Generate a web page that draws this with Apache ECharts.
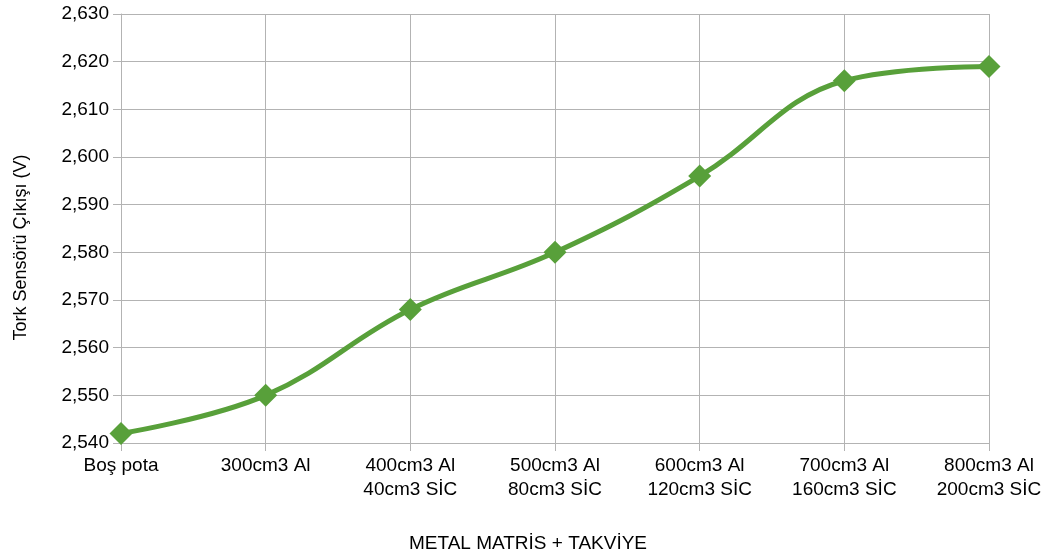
<!DOCTYPE html>
<html><head><meta charset="utf-8">
<script src="https://cdn.jsdelivr.net/npm/echarts@6/dist/echarts.min.js"></script>
<style>html,body{margin:0;padding:0;background:#fff}#c{width:1061px;height:559px}</style>
</head><body><div id="c"></div>
<script>
const categories = ['Boş pota', '300cm3 Al', '400cm3 Al\n40cm3 SİC', '500cm3 Al\n80cm3 SİC', '600cm3 Al\n120cm3 SİC', '700cm3 Al\n160cm3 SİC', '800cm3 Al\n200cm3 SİC'];
const values = [2.542, 2.550, 2.568, 2.580, 2.596, 2.616, 2.619];
const yMin = 2.54, yMax = 2.63, yStep = 0.01;
const chart = echarts.init(document.getElementById('c'));
const font = 'Liberation Sans, Arial, sans-serif';
chart.setOption({
  animation: false,
  grid: {left: 121, right: 72, top: 14, bottom: 116},
  xAxis: {
    type: 'category', data: categories, boundaryGap: false,
    name: 'METAL MATRİS + TAKVİYE', nameLocation: 'middle', nameGap: 91,
    nameTextStyle: {fontFamily: font, fontSize: 19, color: '#000', padding: [0, 54, 0, 0]},
    axisLine: {lineStyle: {color: '#b3b3b3'}},
    axisTick: {show: true, length: 8, lineStyle: {color: '#b3b3b3'}},
    axisLabel: {fontFamily: font, fontSize: 19, color: '#000', margin: 11, lineHeight: 24, interval: 0},
    splitLine: {show: true, lineStyle: {color: '#b3b3b3'}}
  },
  yAxis: {
    type: 'value', min: yMin, max: yMax, interval: yStep,
    name: 'Tork Sensörü Çıkışı (V)', nameLocation: 'middle', nameGap: 91, nameRotate: 90,
    nameTextStyle: {fontFamily: font, fontSize: 18, color: '#000', padding: [0, 38, 0, 0]},
    axisLine: {show: true, lineStyle: {color: '#b3b3b3'}},
    axisTick: {show: true, length: 8, lineStyle: {color: '#b3b3b3'}},
    axisLabel: {fontFamily: font, fontSize: 19, color: '#000', margin: 12,
      formatter: v => v.toFixed(3).replace('.', ',')},
    splitLine: {show: true, lineStyle: {color: '#b3b3b3'}}
  },
  series: [{
    type: 'line', data: values, smooth: 0.4,
    lineStyle: {color: '#58a03a', width: 5},
    itemStyle: {color: '#58a03a'},
    symbol: 'diamond', symbolSize: 23
  }]
});
</script></body></html>
